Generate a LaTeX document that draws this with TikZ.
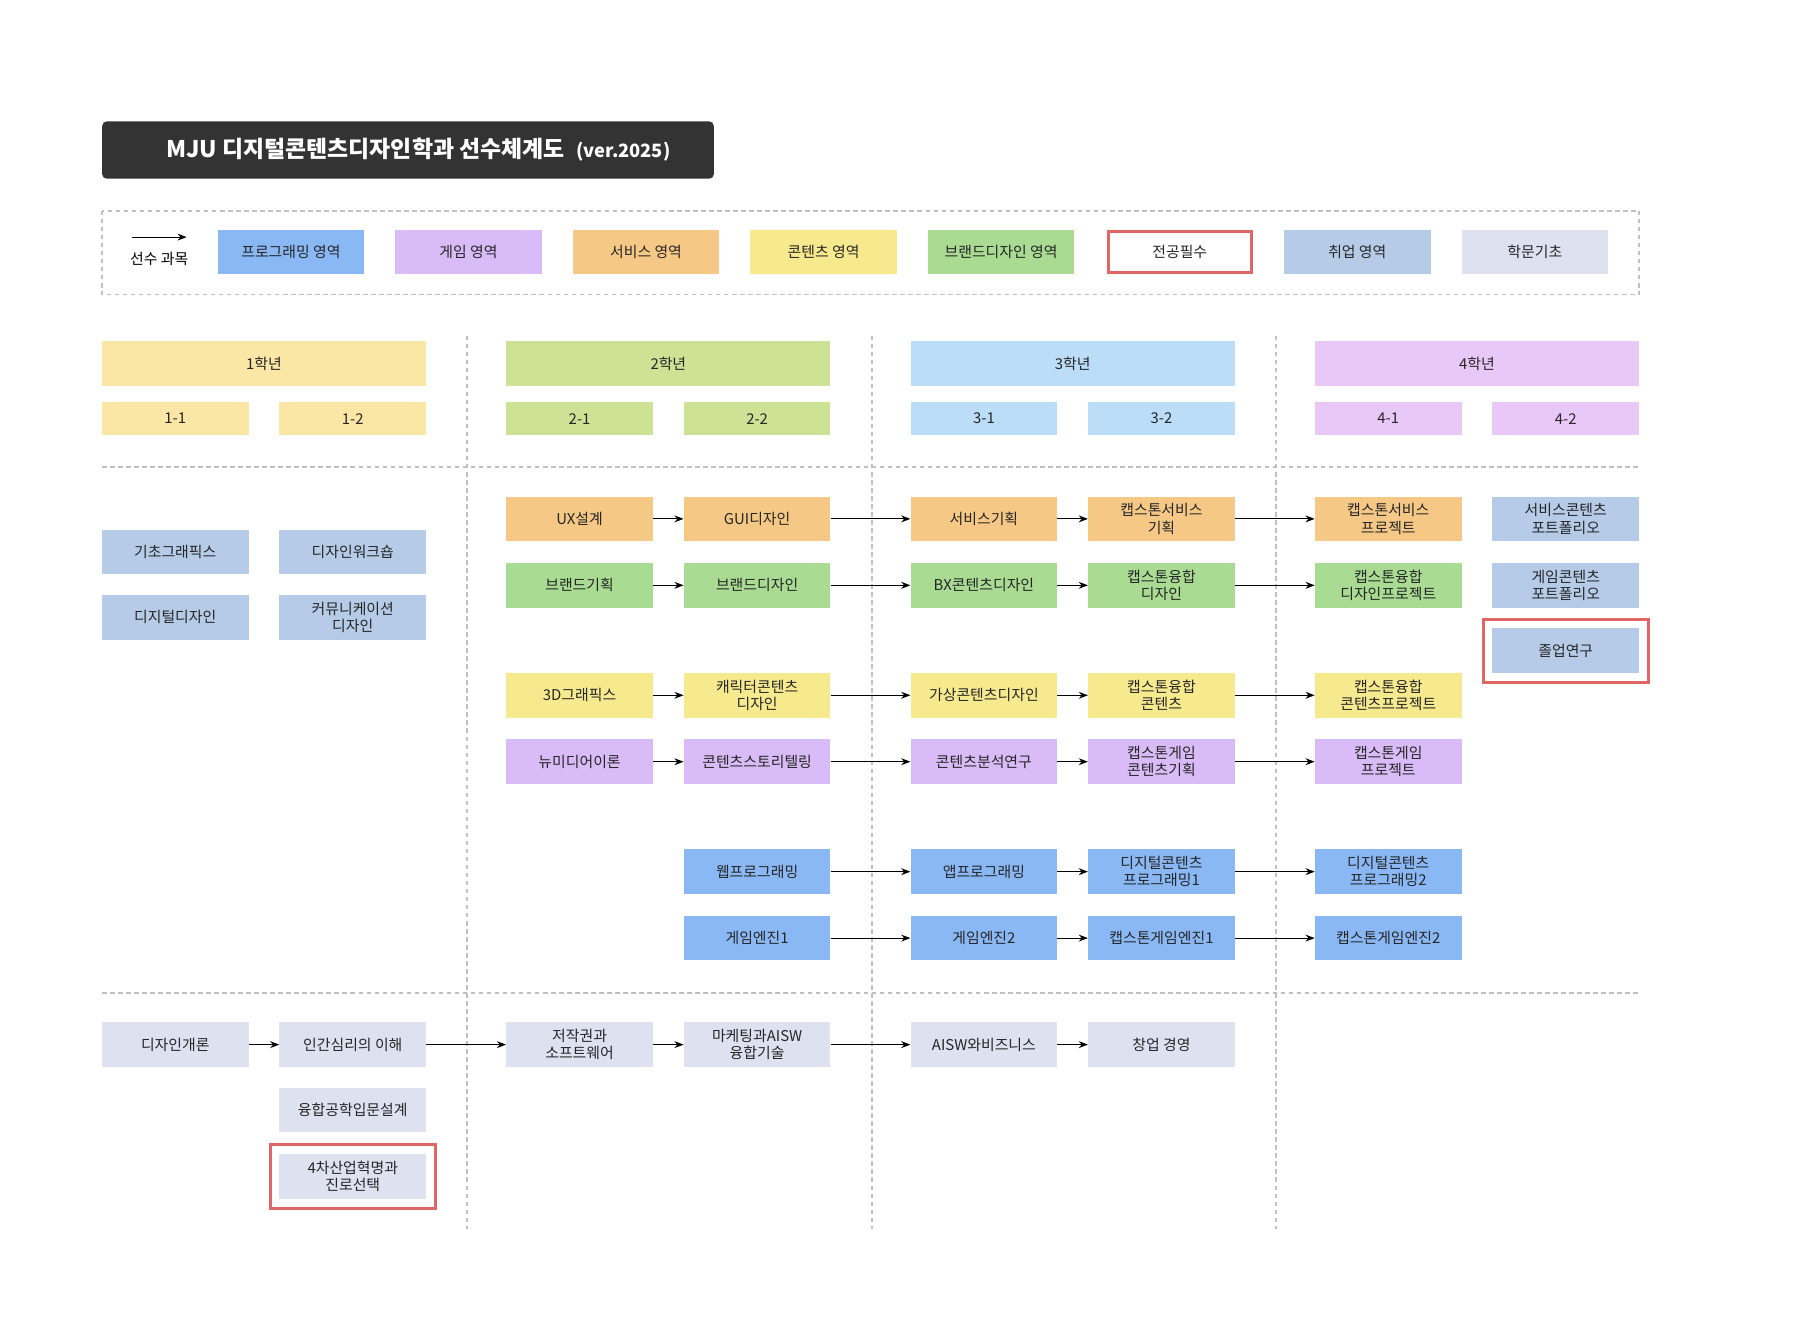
\documentclass[tikz,border=0pt]{standalone}
\usepackage{fontspec}
\setmainfont{Noto Sans CJK KR}
\usetikzlibrary{arrows.meta}
\definecolor{cprog}{HTML}{8AB8F5}
\definecolor{cgame}{HTML}{D9BCF7}
\definecolor{cserv}{HTML}{F5C886}
\definecolor{ccont}{HTML}{F7EA8E}
\definecolor{cbrand}{HTML}{A9DB93}
\definecolor{cjob}{HTML}{B6CBE8}
\definecolor{cbase}{HTML}{DDE1F0}
\definecolor{cred}{HTML}{E06666}
\definecolor{y1}{HTML}{FAE6A5}
\definecolor{y2}{HTML}{CDE295}
\definecolor{y3}{HTML}{BBDDF8}
\definecolor{y4}{HTML}{E9C8F8}
\definecolor{dgray}{HTML}{333333}
\tikzset{
 box/.style={minimum width=128pt,minimum height=39pt,inner sep=0pt,align=center,font=\fontsize{13}{15}\selectfont,text=black!85},
 prog/.style={box,fill=cprog}, game/.style={box,fill=cgame}, serv/.style={box,fill=cserv},
 cont/.style={box,fill=ccont}, brand/.style={box,fill=cbrand}, job/.style={box,fill=cjob},
 base/.style={box,fill=cbase},
 yr/.style={box,minimum width=283pt},
 sem/.style={box,minimum height=29pt},
 redbox/.style={draw=cred,line width=3pt},
 arr/.style={-{Stealth[length=8pt,width=6pt]},line width=1pt},
 dline/.style={gray!50,line width=1.5pt,dash pattern=on 4pt off 3pt},
}
\begin{document}
\begin{tikzpicture}[x=1pt,y=-1pt]
\useasboundingbox (0,0) rectangle (1568,1152);
\fill[white] (0,0) rectangle (1568,1152);
% title
\node[fill=dgray,rounded corners=4pt,minimum width=534pt,minimum height=50pt,text=white,anchor=west,inner sep=0pt] (title) at (89,131) {\hspace{18pt}\fontsize{20}{24}\selectfont\bfseries MJU 디지털콘텐츠디자인학과 선수체계도\hspace{10pt}{\fontsize{16}{20}\selectfont (ver.2025)}\hfill};
% legend
\draw[dline] (89,184) rectangle (1431,257);
\coordinate (la) at (115,207); \coordinate (lb) at (163,207);
\draw[arr] (la) -- (lb);
\node[font=\fontsize{13}{15}\selectfont] (lt) at (139,226) {선수 과목};
\node[prog] (l1) at (254,220) {프로그래밍 영역};
\node[game] (l2) at (409,220) {게임 영역};
\node[serv] (l3) at (564,220) {서비스 영역};
\node[cont] (l4) at (719,220) {콘텐츠 영역};
\node[brand] (l5) at (874,220) {브랜드디자인 영역};
\node[box,draw=cred,line width=2.5pt,minimum width=125pt,minimum height=36pt] (l6) at (1030,220) {전공필수};
\node[job] (l7) at (1185,220) {취업 영역};
\node[base] (l8) at (1340,220) {학문기초};
% grid lines
\foreach \x in {408,761,1114} \draw[dline] (\x,293) -- (\x,1073);
\draw[dline] (89,408) -- (1431,408);
\draw[dline] (89,867) -- (1431,867);
% years
\node[yr,fill=y1] (Y1) at (230.5,317.5) {1학년};
\node[yr,fill=y2] (Y2) at (583.5,317.5) {2학년};
\node[yr,fill=y3] (Y3) at (936.5,317.5) {3학년};
\node[yr,fill=y4] (Y4) at (1289.5,317.5) {4학년};
\node[sem,fill=y1] (s11) at (153,365.5) {1-1};
\node[sem,fill=y1] (s12) at (308,365.5) {1-2};
\node[sem,fill=y2] (s21) at (506,365.5) {2-1};
\node[sem,fill=y2] (s22) at (661,365.5) {2-2};
\node[sem,fill=y3] (s31) at (859,365.5) {3-1};
\node[sem,fill=y3] (s32) at (1014,365.5) {3-2};
\node[sem,fill=y4] (s41) at (1212,365.5) {4-1};
\node[sem,fill=y4] (s42) at (1367,365.5) {4-2};
% left job
\node[job] (a1) at (153,482) {기초그래픽스};
\node[job] (a2) at (308,482) {디자인워크숍};
\node[job] (a3) at (153,539) {디지털디자인};
\node[job] (a4) at (308,539) {커뮤니케이션\\디자인};
% service row
\node[serv] (sv1) at (506,453) {UX설계};
\node[serv] (sv2) at (661,453) {GUI디자인};
\node[serv] (sv3) at (859,453) {서비스기획};
\node[serv] (sv4) at (1014,453) {캡스톤서비스\\기획};
\node[serv] (sv5) at (1212,453) {캡스톤서비스\\프로젝트};
\node[job] (j1) at (1367,453) {서비스콘텐츠\\포트폴리오};
% brand row
\node[brand] (br1) at (506,511) {브랜드기획};
\node[brand] (br2) at (661,511) {브랜드디자인};
\node[brand] (br3) at (859,511) {BX콘텐츠디자인};
\node[brand] (br4) at (1014,511) {캡스톤융합\\디자인};
\node[brand] (br5) at (1212,511) {캡스톤융합\\디자인프로젝트};
\node[job] (j2) at (1367,511) {게임콘텐츠\\포트폴리오};
\node[job] (j3) at (1367,568) {졸업연구};
\draw[redbox] (1295,541) rectangle (1439,596);
% content row
\node[cont] (ct1) at (506,607) {3D그래픽스};
\node[cont] (ct2) at (661,607) {캐릭터콘텐츠\\디자인};
\node[cont] (ct3) at (859,607) {가상콘텐츠디자인};
\node[cont] (ct4) at (1014,607) {캡스톤융합\\콘텐츠};
\node[cont] (ct5) at (1212,607) {캡스톤융합\\콘텐츠프로젝트};
% game row
\node[game] (gm1) at (506,665) {뉴미디어이론};
\node[game] (gm2) at (661,665) {콘텐츠스토리텔링};
\node[game] (gm3) at (859,665) {콘텐츠분석연구};
\node[game] (gm4) at (1014,665) {캡스톤게임\\콘텐츠기획};
\node[game] (gm5) at (1212,665) {캡스톤게임\\프로젝트};
% programming rows
\node[prog] (p1) at (661,761) {웹프로그래밍};
\node[prog] (p2) at (859,761) {앱프로그래밍};
\node[prog] (p3) at (1014,761) {디지털콘텐츠\\프로그래밍1};
\node[prog] (p4) at (1212,761) {디지털콘텐츠\\프로그래밍2};
\node[prog] (e1) at (661,819) {게임엔진1};
\node[prog] (e2) at (859,819) {게임엔진2};
\node[prog] (e3) at (1014,819) {캡스톤게임엔진1};
\node[prog] (e4) at (1212,819) {캡스톤게임엔진2};
% base row
\node[base] (b1) at (153,912) {디자인개론};
\node[base] (b2) at (308,912) {인간심리의 이해};
\node[base] (b3) at (506,912) {저작권과\\소프트웨어};
\node[base] (b4) at (661,912) {마케팅과AISW\\융합기술};
\node[base] (b5) at (859,912) {AISW와비즈니스};
\node[base] (b6) at (1014,912) {창업 경영};
\node[base] (b7) at (308,969) {융합공학입문설계};
\node[base] (b8) at (308,1027) {4차산업혁명과\\진로선택};
\draw[redbox] (236,999) rectangle (380,1055);
% arrows
\foreach \r in {sv,br,ct,gm} {
  \draw[arr] (\r1) -- (\r2); \draw[arr] (\r2) -- (\r3);
  \draw[arr] (\r3) -- (\r4); \draw[arr] (\r4) -- (\r5);
}
\foreach \r in {p,e} {
  \draw[arr] (\r1) -- (\r2); \draw[arr] (\r2) -- (\r3); \draw[arr] (\r3) -- (\r4);
}
\draw[arr] (b1) -- (b2); \draw[arr] (b2) -- (b3); \draw[arr] (b3) -- (b4);
\draw[arr] (b4) -- (b5); \draw[arr] (b5) -- (b6);
\end{tikzpicture}
\end{document}
